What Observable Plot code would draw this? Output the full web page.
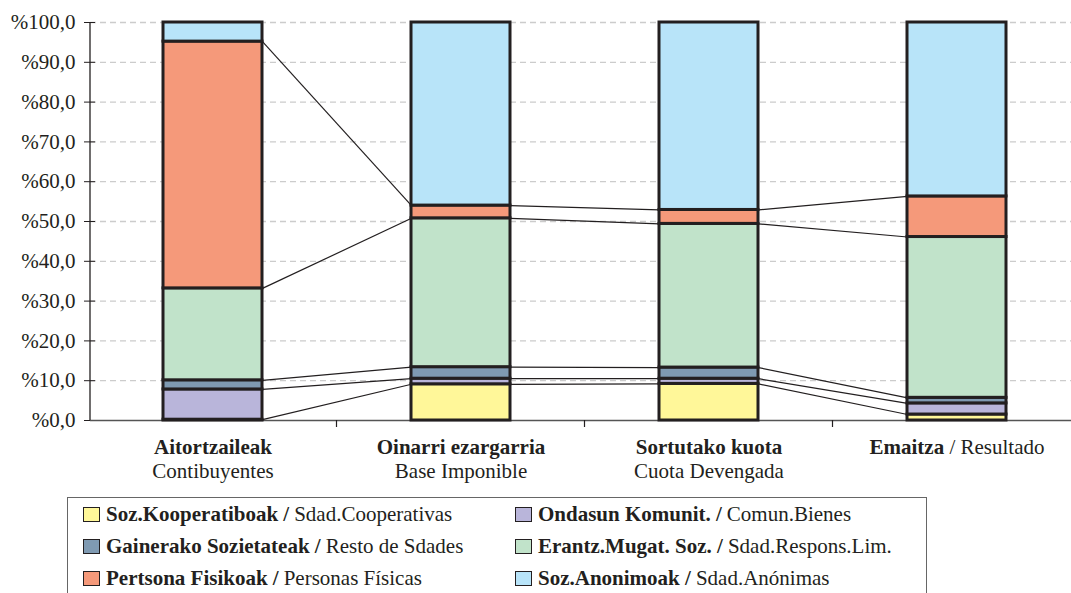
<!DOCTYPE html>
<html>
<head>
<meta charset="utf-8">
<script src="https://cdn.jsdelivr.net/npm/d3@7"></script>
<script src="https://cdn.jsdelivr.net/npm/@observablehq/plot@0.6"></script>
<style>
  body { margin: 0; background: #fff; font-family: "Liberation Serif", Tinos, "Times New Roman", Times, "DejaVu Serif", serif; color: #231f20; }
  #legend { position: relative; margin-left: 67px; margin-top: 7px; width: 858px; height: 100px; border: 1px solid #666; }
  .item { position: absolute; display: flex; align-items: center; height: 32px; font-size: 21px; white-space: nowrap; }
  .sw { width: 15px; height: 13px; border: 1px solid #231f20; margin-right: 6px; flex: none; }
  .item b { margin-right: 5px; }
</style>
</head>
<body>
<div id="chart"></div>
<div id="legend"></div>
<script>
// Categories (x axis)
const categoryBold = ["Aitortzaileak", "Oinarri ezargarria", "Sortutako kuota", "Emaitza"];
const categoryRegular = ["Contibuyentes", "Base Imponible", "Cuota Devengada", "Resultado"];
const categorySameLine = [false, false, false, true];

// Series (stack order bottom -> top)
const seriesBold = ["Soz.Kooperatiboak", "Ondasun Komunit.", "Gainerako Sozietateak", "Erantz.Mugat. Soz.", "Pertsona Fisikoak", "Soz.Anonimoak"];
const seriesRegular = ["Sdad.Cooperativas", "Comun.Bienes", "Resto de Sdades", "Sdad.Respons.Lim.", "Personas Físicas", "Sdad.Anónimas"];
const seriesColors = ["#fff799", "#b9b5da", "#7f9ab2", "#c1e3ca", "#f5997a", "#b8e4f9"];

// Values (% per category)
const kooperatiboak = [0.2, 9.1, 9.2, 1.5];
const ondasun = [7.6, 1.4, 1.3, 2.8];
const gainerako = [2.3, 2.9, 2.8, 1.4];
const erantzMugat = [23.1, 37.4, 36.1, 40.4];
const pertsonaFisikoak = [62.0, 3.2, 3.5, 10.2];
const anonimoak = [4.8, 46.0, 47.1, 43.7];
const seriesValues = [kooperatiboak, ondasun, gainerako, erantzMugat, pertsonaFisikoak, anonimoak];

// Y tick labels
const yTicks = [0, 10, 20, 30, 40, 50, 60, 70, 80, 90, 100];
const yTickFormat = d => "%" + d.toFixed(1).replace(".", ",");

const ink = "#231f20";
const serif = "'Liberation Serif', Tinos, 'Times New Roman', Times, 'DejaVu Serif', serif";

const rows = [];
seriesBold.forEach((s, j) => categoryBold.forEach((c, i) => rows.push({category: c, series: s, value: seriesValues[j][i]})));

// cumulative tops for connector lines
const cum = seriesValues.map((_, j) => categoryBold.map((c, i) => d3.sum(seriesValues.slice(0, j + 1), v => v[i])));
const links = [];
for (let j = 0; j < seriesBold.length - 1; j++) {
  for (let i = 0; i < categoryBold.length - 1; i++) {
    links.push({from: categoryBold[i], to: categoryBold[i + 1], y1: cum[j][i], y2: cum[j][i + 1]});
  }
}

const chart = Plot.plot({
  width: 1071,
  height: 490,
  marginTop: 22,
  marginBottom: 70,
  marginLeft: 90,
  marginRight: 0,
  style: {fontFamily: serif, fontSize: "21px", color: ink, background: "#fff"},
  x: {domain: categoryBold, paddingInner: 0.6, paddingOuter: 0.276, align: 0.532, axis: null},
  y: {domain: [0, 100], axis: null},
  color: {domain: seriesBold, range: seriesColors},
  marks: [
    Plot.ruleY(yTicks.filter(d => d > 0), {stroke: "#cccccc", strokeWidth: 1.3, strokeDasharray: "6,4"}),
    Plot.axisY({ticks: yTicks, tickFormat: yTickFormat, tickSize: 11, tickPadding: 9, dx: 5, fontSize: 21, stroke: ink, fill: ink}),
    Plot.ruleY([0], {stroke: "#555", strokeWidth: 1.3}),
    // y axis line
    (index, scales, values, dimensions) => {
      const {marginLeft, marginTop, height, marginBottom} = dimensions;
      const g = d3.create("svg:g");
      g.append("line").attr("x1", marginLeft).attr("x2", marginLeft)
        .attr("y1", marginTop).attr("y2", height - marginBottom)
        .attr("stroke", ink).attr("stroke-width", 1.3);
      return g.node();
    },
    // category boundary ticks
    (index, scales) => {
      const x = scales.x, y = scales.y;
      const step = x.step(), bw = x.bandwidth();
      const g = d3.create("svg:g");
      for (let i = 1; i < categoryBold.length; i++) {
        const xb = x(categoryBold[i]) + bw / 2 - step / 2;
        g.append("line").attr("x1", xb).attr("x2", xb).attr("y1", y(0)).attr("y2", y(0) + 7)
          .attr("stroke", ink).attr("stroke-width", 1.2);
      }
      return g.node();
    },
    Plot.barY(rows, {x: "category", y: "value", fill: "series", stroke: ink, strokeWidth: 3}),
    Plot.link(links, {
      x1: "from", x2: "to", y1: "y1", y2: "y2", stroke: ink, strokeWidth: 1.2,
      render(index, scales, values, dimensions, context, next) {
        const bw = scales.x.bandwidth();
        const X1 = Float64Array.from(values.x1, v => v + bw / 2);
        const X2 = Float64Array.from(values.x2, v => v - bw / 2);
        return next(index, scales, {...values, x1: X1, x2: X2}, dimensions, context);
      }
    }),
    Plot.text(categoryBold, {
      x: d => d, frameAnchor: "bottom", lineAnchor: "bottom", dy: 33,
      text: (d, i) => categorySameLine[i] ? d + " / " + categoryRegular[i] : d,
      fontWeight: "bold", fontSize: 21, fill: ink
    }),
    Plot.text(categoryBold, {
      x: d => d, frameAnchor: "bottom", lineAnchor: "bottom", dy: 57.5,
      text: (d, i) => categorySameLine[i] ? "" : categoryRegular[i],
      fontSize: 21, fill: ink
    })
  ]
});

// mixed bold/regular on the same line
d3.select(chart).selectAll("text").each(function() {
  const t = this.textContent;
  const k = t.indexOf(" / ");
  if (k >= 0) {
    const sel = d3.select(this);
    sel.text(null);
    sel.append("tspan").attr("font-weight", "bold").style("font-weight", "bold").text(t.slice(0, k));
    sel.append("tspan").attr("font-weight", "normal").style("font-weight", "normal").text(t.slice(k));
  }
});

document.getElementById("chart").appendChild(chart);

// Legend
const legend = d3.select("#legend");
const colLeft = [15, 447];
seriesBold.forEach((s, i) => {
  const item = legend.append("div").attr("class", "item")
    .style("left", colLeft[i % 2] + "px")
    .style("top", (Math.floor(i / 2) * 32) + "px");
  item.append("span").attr("class", "sw").style("background", seriesColors[i]);
  item.append("b").text(s + " /");
  item.append("span").text(seriesRegular[i]);
});
</script>
</body>
</html>
